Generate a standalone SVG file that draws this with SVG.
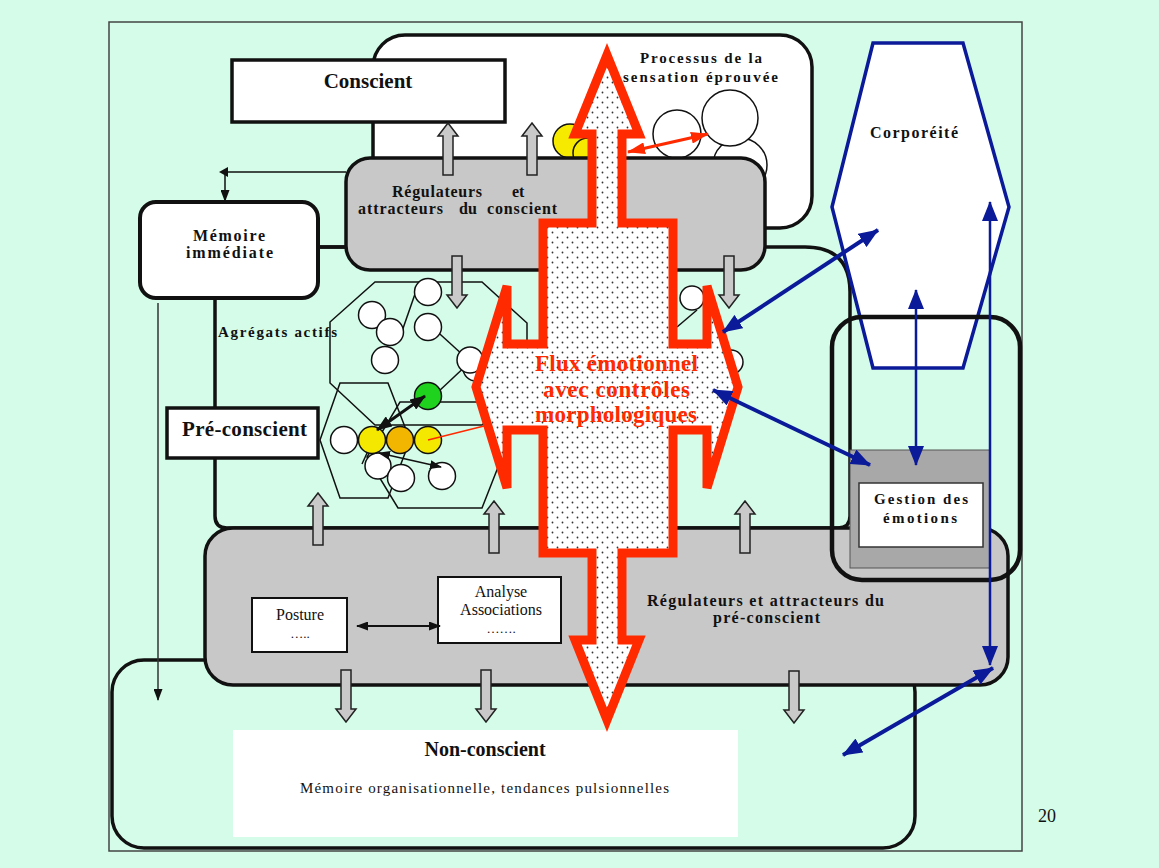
<svg xmlns="http://www.w3.org/2000/svg" xmlns:xlink="http://www.w3.org/1999/xlink" width="1159" height="868" viewBox="0 0 1159 868">
<style>
.b{font-family:"Liberation Serif",serif;font-weight:bold;fill:#111}
.n{font-family:"Liberation Serif",serif;fill:#111}
.reg{fill:#c8c8c8;stroke:#111;stroke-width:3.5}
.wbox{fill:#fff;stroke:#111;stroke-width:3.5}
.line{fill:none;stroke:#111;stroke-width:3.5}
.ga{fill:#c9c9c9;stroke:#222;stroke-width:1.5}
.ci{fill:#fff;stroke:#111;stroke-width:1.5}
.hex{fill:none;stroke:#111;stroke-width:1.5}
.thin{fill:none;stroke:#111;stroke-width:1.5}
.blue{fill:none;stroke:#0b1a98;stroke-linecap:butt}
.flux{font-family:"Liberation Serif",serif;font-weight:bold;fill:#ff2a00;font-size:23px}
</style>
<defs>
<pattern id="dots" width="10" height="10" patternUnits="userSpaceOnUse">
<rect width="10" height="10" fill="#fff"/>
<circle cx="2.5" cy="2.5" r="0.9" fill="#333"/>
<circle cx="7.5" cy="7.5" r="0.9" fill="#333"/>
</pattern>
<path id="ua" d="M0,0 L10,13 L5,13 L5,52 L-5,52 L-5,13 L-10,13 Z"/>
<marker id="bm" viewBox="0 0 20 16" refX="19" refY="8" markerWidth="20" markerHeight="16" orient="auto-start-reverse" markerUnits="userSpaceOnUse"><path d="M0,0 L20,8 L0,16 Z" fill="#0b1a98"/></marker>
<marker id="km" viewBox="0 0 12 9" refX="11" refY="4.5" markerWidth="12" markerHeight="9" orient="auto-start-reverse" markerUnits="userSpaceOnUse"><path d="M0,0 L12,4.5 L0,9 Z" fill="#111"/></marker>
<marker id="kmb" viewBox="0 0 16 12" refX="15" refY="6" markerWidth="16" markerHeight="12" orient="auto-start-reverse" markerUnits="userSpaceOnUse"><path d="M0,0 L16,6 L0,12 Z" fill="#111"/></marker>
<marker id="rm" viewBox="0 0 18 12" refX="17" refY="6" markerWidth="18" markerHeight="12" orient="auto-start-reverse" markerUnits="userSpaceOnUse"><path d="M0,0 L18,6 L0,12 Z" fill="#ff2a00"/></marker>
</defs>

<rect width="1159" height="868" fill="#d4fce9"/>
<rect x="109" y="22" width="913" height="829" fill="none" stroke="#444" stroke-width="1.5"/>

<g id="non-conscient-region">
<rect x="112" y="660" width="803" height="188" rx="32" class="line"/>
</g>
<g id="pre-conscient-region">
<path d="M250,247 H805 Q850,247 850,292 V516 Q850,528 838,528 H227 Q215,528 215,516 V282 Q215,247 250,247 Z" class="line"/>
</g>

<g id="processus">
<rect x="373" y="35" width="439" height="193" rx="32" class="wbox"/>
<circle cx="570" cy="141" r="17" fill="#f5ea00" stroke="#111" stroke-width="1.5"/>
<circle cx="588" cy="153" r="15" fill="#f5ea00" stroke="#111" stroke-width="1.5"/>
<circle cx="677" cy="134" r="24" class="ci"/>
<circle cx="740" cy="165" r="27" class="ci"/>
<circle cx="730" cy="118" r="28" class="ci"/>
<text class="b" font-size="15" x="640" y="63" textLength="122">Processus de la</text>
<text class="b" font-size="15" x="623" y="82" textLength="155">sensation éprouvée</text>
</g>

<g id="conscient">
<rect x="232" y="60" width="273" height="62" class="wbox"/>
<text class="b" font-size="21" x="368" y="88" text-anchor="middle">Conscient</text>
</g>

<g id="regulateurs-conscient">
<rect x="346" y="158" width="419" height="112" rx="24" class="reg"/>
<text class="b" font-size="16" x="392" y="197" textLength="90">Régulateurs</text>
<text class="b" font-size="16" x="512" y="197">et</text>
<text class="b" font-size="16" x="358" y="214" textLength="85">attracteurs</text>
<text class="b" font-size="16" x="459" y="214">du</text>
<text class="b" font-size="16" x="487" y="214" textLength="70">conscient</text>
</g>

<g id="memoire">
<rect x="140" y="202" width="178" height="96" rx="16" fill="#fff" stroke="#111" stroke-width="4"/>
<text class="b" font-size="16" x="193" y="241" textLength="72">Mémoire</text>
<text class="b" font-size="16" x="186" y="258" textLength="87">immédiate</text>
</g>

<g id="regulateurs-preconscient">
<rect x="205" y="528" width="803" height="157" rx="28" class="reg"/>
<text class="b" font-size="16" x="647" y="606" textLength="237">Régulateurs et attracteurs du</text>
<text class="b" font-size="16" x="713" y="623" textLength="107">pré-conscient</text>
</g>

<g id="posture">
<rect x="252" y="598" width="95" height="54" fill="#fff" stroke="#111" stroke-width="2"/>
<text class="n" font-size="16" x="300" y="620" text-anchor="middle">Posture</text>
<text class="n" font-size="13" x="300" y="638" text-anchor="middle">…..</text>
</g>

<g id="analyse">
<rect x="438" y="577" width="123" height="66" fill="#fff" stroke="#111" stroke-width="2"/>
<text class="n" font-size="16" x="501" y="597" text-anchor="middle">Analyse</text>
<text class="n" font-size="16" x="501" y="615" text-anchor="middle">Associations</text>
<text class="n" font-size="13" x="501" y="633" text-anchor="middle">…….</text>
</g>

<g id="non-conscient">
<rect x="233" y="730" width="505" height="107" fill="#fff"/>
<text class="b" font-size="20" x="485" y="756" text-anchor="middle">Non-conscient</text>
<text class="n" font-size="15" x="300" y="793" textLength="369">Mémoire organisationnelle, tendances pulsionnelles</text>
</g>

<g id="corporeite">
<polygon points="873,43 963,43 1009,207 963,368 873,368 832,207" fill="#fff" stroke="#0b1a98" stroke-width="3.5"/>
<text class="b" font-size="16" x="870" y="138" textLength="88">Corporéité</text>
</g>

<g id="gestion">
<rect x="850" y="450" width="140" height="118" fill="#a8a8a8" stroke="#555" stroke-width="1"/>
<rect x="859" y="483" width="124" height="64" fill="#fff" stroke="#333" stroke-width="1.5"/>
<text class="b" font-size="15" x="874" y="504" textLength="94">Gestion des</text>
<text class="b" font-size="15" x="883" y="523" textLength="74">émotions</text>
<rect x="832" y="317" width="188" height="263" rx="30" fill="none" stroke="#111" stroke-width="4.5"/>
</g>

<g id="agregats">
<text class="b" font-size="15" x="218" y="337" textLength="119">Agrégats actifs</text>
<polygon points="375,282 482,282 527,323 527,383 482,425 375,425 330,383 330,322" class="hex"/>
<polygon points="340,383 388,383 410,440 388,498 340,498 320,440" class="hex"/>
<polygon points="400,402 482,402 502,457 482,508 398,508 367,457" class="hex"/>
<line x1="415" y1="294" x2="400" y2="337" class="thin"/>
<line x1="430" y1="325" x2="464" y2="356" class="thin"/>
<line x1="470" y1="362" x2="438" y2="392" class="thin"/>
<line x1="373" y1="440" x2="362" y2="464" class="thin"/>
<line x1="677" y1="327" x2="697" y2="310" class="thin"/>
<circle cx="428" cy="292" r="13.5" class="ci"/>
<circle cx="372" cy="315" r="13.5" class="ci"/>
<circle cx="390" cy="332" r="13.5" class="ci"/>
<circle cx="428" cy="327" r="13.5" class="ci"/>
<circle cx="385" cy="360" r="13.5" class="ci"/>
<circle cx="476" cy="368" r="13" class="ci"/>
<circle cx="470" cy="360" r="13" class="ci"/>
<circle cx="692" cy="298" r="12" class="ci"/>
<circle cx="731" cy="362" r="12" class="ci"/>
<circle cx="428" cy="396" r="13.5" fill="#1ed21e" stroke="#111" stroke-width="1.5"/>
<circle cx="378" cy="466" r="13" class="ci"/>
<circle cx="401" cy="478" r="13.5" class="ci"/>
<circle cx="442" cy="476" r="13.5" class="ci"/>
<circle cx="344" cy="440" r="13.5" class="ci"/>
<circle cx="372" cy="440" r="13.5" fill="#f5e800" stroke="#111" stroke-width="1.5"/>
<circle cx="400" cy="440" r="13.5" fill="#f2b600" stroke="#111" stroke-width="1.5"/>
<circle cx="428" cy="440" r="13.5" fill="#f5e800" stroke="#111" stroke-width="1.5"/>
<line x1="428" y1="440" x2="488" y2="425" stroke="#ff2a00" stroke-width="1.5"/>
</g>

<g id="pre-conscient">
<rect x="167" y="408" width="151" height="50" class="wbox"/>
<text class="b" font-size="21" x="182" y="436" textLength="125">Pré-conscient</text>
</g>

<g id="block-arrows">
<use href="#ua" class="ga" transform="translate(448,123)"/>
<use href="#ua" class="ga" transform="translate(532,123)"/>
<use href="#ua" class="ga" transform="translate(318,493)"/>
<use href="#ua" class="ga" transform="translate(494,501)"/>
<use href="#ua" class="ga" transform="translate(745,501)"/>
<use href="#ua" class="ga" transform="translate(457,308) rotate(180)"/>
<use href="#ua" class="ga" transform="translate(729,308) rotate(180)"/>
<use href="#ua" class="ga" transform="translate(346,722) rotate(180)"/>
<use href="#ua" class="ga" transform="translate(486,722) rotate(180)"/>
<use href="#ua" class="ga" transform="translate(794,723) rotate(180)"/>
</g>

<g id="flux">
<polygon points="607,55 639,134 622,134 622,223 673,223 673,344 707,344 707,286 738,387 707,488 707,430 673,430 673,553 622,553 622,640 639,640 607,720 575,640 592,640 592,553 543,553 543,430 507,430 507,488 476,387 507,286 507,344 543,344 543,223 592,223 592,134 575,134" fill="url(#dots)" stroke="#ff2a00" stroke-width="9" stroke-linejoin="miter" stroke-miterlimit="2.8"/>
<text class="flux" x="535" y="371" textLength="163">Flux émotionnel</text>
<text class="flux" x="543" y="397" textLength="147">avec contrôles</text>
<text class="flux" x="535" y="422" textLength="162">morphologiques</text>
</g>

<g id="connectors">
<polyline points="346,172 225,172 225,201" class="thin" marker-end="url(#km)"/>
<polygon points="219,172 228,167 228,177" fill="#111"/>
<line x1="318" y1="247" x2="346" y2="247" class="line"/>
<line x1="158" y1="303" x2="158" y2="700" stroke="#333" stroke-width="1.5" marker-end="url(#km)"/>
<line x1="357" y1="626" x2="440" y2="626" stroke="#111" stroke-width="2" marker-start="url(#km)" marker-end="url(#km)"/>
<line x1="425" y1="396" x2="377" y2="430" stroke="#111" stroke-width="3" marker-start="url(#kmb)" marker-end="url(#kmb)"/>
<line x1="379" y1="453" x2="441" y2="467" stroke="#111" stroke-width="1.5" marker-start="url(#km)" marker-end="url(#km)"/>
<line x1="628" y1="152" x2="708" y2="134" stroke="#ff2a00" stroke-width="3" marker-start="url(#rm)" marker-end="url(#rm)"/>
<line x1="878" y1="230" x2="723" y2="332" class="blue" stroke-width="4" marker-start="url(#bm)" marker-end="url(#bm)"/>
<line x1="713" y1="390" x2="870" y2="465" class="blue" stroke-width="4" marker-start="url(#bm)" marker-end="url(#bm)"/>
<line x1="916" y1="290" x2="916" y2="465" class="blue" stroke-width="2.5" marker-start="url(#bm)" marker-end="url(#bm)"/>
<line x1="990" y1="202" x2="990" y2="665" class="blue" stroke-width="2.5" marker-start="url(#bm)" marker-end="url(#bm)"/>
<line x1="993" y1="668" x2="843" y2="755" class="blue" stroke-width="4" marker-start="url(#bm)" marker-end="url(#bm)"/>
</g>

<text class="n" font-size="18" x="1047" y="822" text-anchor="middle">20</text>
</svg>
